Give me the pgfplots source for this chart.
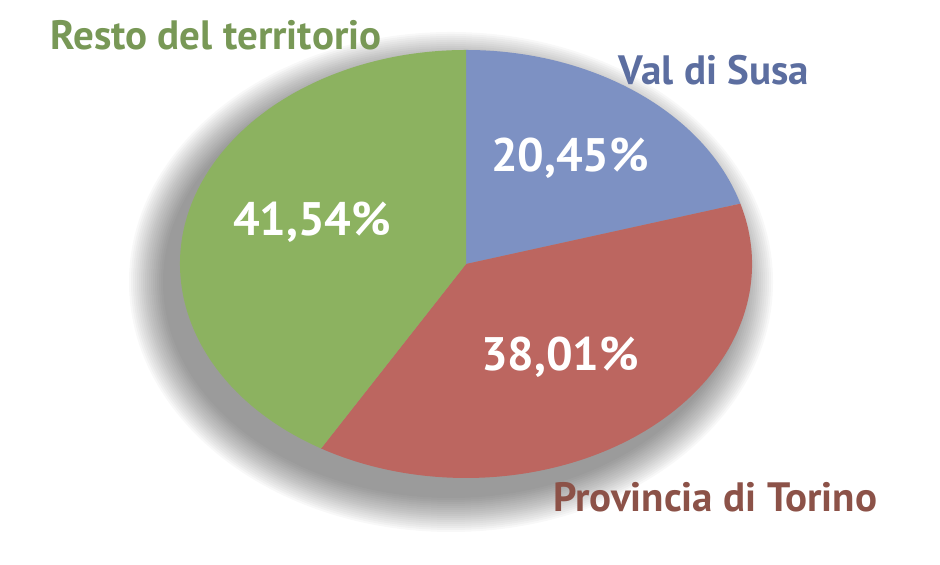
\documentclass[border=0pt]{standalone}
\usepackage{pgfplots}
\pgfplotsset{compat=1.18}
\usepackage{fontspec}
\setmainfont{PT Sans}
\definecolor{cblue}{RGB}{125,145,195}
\definecolor{cred}{RGB}{188,102,96}
\definecolor{cgreen}{RGB}{140,178,96}
\definecolor{tblue}{RGB}{92,110,160}
\definecolor{tred}{RGB}{140,82,72}
\definecolor{tgreen}{RGB}{120,152,86}
% data (percent)
\def\vA{20.45}% Val di Susa
\def\vB{38.01}% Provincia di Torino
\def\vC{41.54}% Resto del territorio
\begin{document}%
\begin{tikzpicture}
\pgfmathsetmacro\aS{90}
\pgfmathsetmacro\aA{\aS-3.6*\vA}
\pgfmathsetmacro\aB{\aA-3.6*\vB}
\pgfmathsetmacro\aC{\aB-3.6*\vC}
\begin{axis}[
  scale only axis, width=470pt, height=282.5pt,
  xmin=0, xmax=940, ymin=0, ymax=565,
  hide axis, clip=false,
]
% soft shadow
\pgfplotsinvokeforeach{36,34,32,30,28,26,24,22,20,18,16,14,12,10,8,6,4,2}{
  \fill[black, opacity=0.028] (axis cs:451,283) ellipse [x radius={(143+0.5*#1)*1pt}, y radius={(107+0.5*#1)*1pt}];
}
\fill[cblue] (axis cs:466,301) -- ++({143pt*cos(\aS)},{107pt*sin(\aS)})
  arc[start angle=\aS, end angle=\aA, x radius=143pt, y radius=107pt] -- cycle;
\fill[cred] (axis cs:466,301) -- ++({143pt*cos(\aA)},{107pt*sin(\aA)})
  arc[start angle=\aA, end angle=\aB, x radius=143pt, y radius=107pt] -- cycle;
\fill[cgreen] (axis cs:466,301) -- ++({143pt*cos(\aB)},{107pt*sin(\aB)})
  arc[start angle=\aB, end angle=\aC, x radius=143pt, y radius=107pt] -- cycle;
% percentages
\node[white, font=\fontsize{23.5}{26}\selectfont\bfseries] at (axis cs:570,407) {20,45\%};
\node[white, font=\fontsize{23.5}{26}\selectfont\bfseries] at (axis cs:312,343) {41,54\%};
\node[white, font=\fontsize{23.5}{26}\selectfont\bfseries] at (axis cs:560,208) {38,01\%};
% labels
\node[tgreen, font=\fontsize{20.5}{22}\selectfont\bfseries] at (axis cs:216,530) {Resto del territorio};
\node[tblue, font=\fontsize{20.5}{22}\selectfont\bfseries] at (axis cs:714,495) {Val di Susa};
\node[tred, font=\fontsize{20.5}{22}\selectfont\bfseries] at (axis cs:715,68) {Provincia di Torino};
\end{axis}
\pgfresetboundingbox
\path (current axis.south west) rectangle (current axis.north east);
\end{tikzpicture}%
\end{document}
